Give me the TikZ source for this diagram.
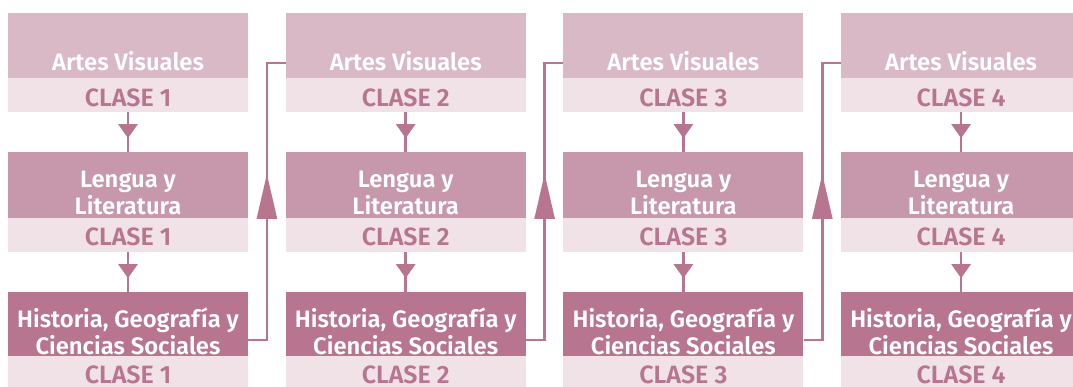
\documentclass[tikz,border=0pt]{standalone}
\usepackage{fontspec}
\setmainfont{Fira Sans}[BoldFont={Fira Sans SemiBold}]
\usetikzlibrary{arrows.meta,decorations.markings}

\definecolor{rosaA}{HTML}{DAB9C6}
\definecolor{rosaB}{HTML}{C797AB}
\definecolor{rosaC}{HTML}{B8758F}
\definecolor{rosaL}{HTML}{F0E2E7}

\begin{document}
\begin{tikzpicture}[x=1pt,y=-1pt,
    box/.style={rectangle,inner sep=0pt,minimum width=240pt},
    subject/.style={text=white,font=\bfseries\fontsize{23.8}{27.5}\selectfont,align=center,inner sep=0pt},
    clase/.style={text=rosaC,font=\bfseries\fontsize{25}{28}\selectfont,inner sep=0pt},
    down/.style={rosaC,line width=2.5pt,postaction={decorate},
      decoration={markings,mark=at position 26pt with {\arrow{Triangle[width=19pt,length=14pt]}}}},
    link/.style={rosaC,line width=2.5pt,postaction={decorate},
      decoration={markings,mark=at position 185pt with {\arrow{Triangle[width=20pt,length=45pt]}}}}]
        % \draw[help lines,step=50] (0,0) grid (1073,386);
        \useasboundingbox (0,0) rectangle (1073,386);

        \foreach \i in {1,...,4} {
            \pgfmathsetmacro{\cx}{128+277.7*(\i-1)}

            % boxes
            \node[box,fill=rosaA,minimum height=65pt] (a\i) at (\cx,45.5) {};
            \node[box,fill=rosaL,minimum height=34pt] (ca\i) at (\cx,95) {};
            \node[box,fill=rosaB,minimum height=66pt] (b\i) at (\cx,185) {};
            \node[box,fill=rosaL,minimum height=34pt] (cb\i) at (\cx,235) {};
            \node[box,fill=rosaC,minimum height=64pt] (c\i) at (\cx,324) {};
            \node[box,fill=rosaL,minimum height=34pt] (cc\i) at (\cx,373) {};

            % texts
            \node[subject] (ta\i) at (\cx,61) {Artes Visuales};
            \node[subject] (tb\i) at (\cx,193) {Lengua y\\Literatura};
            \node[subject] (tc\i) at (\cx,331.5) {Historia, Geografía y\\Ciencias Sociales};
            \node[clase] (la\i) at (\cx,98) {CLASE \i};
            \node[clase] (lb\i) at (\cx,237) {CLASE \i};
            \node[clase] (lc\i) at (\cx,375) {CLASE \i};

            % arrows inside a column
            \draw[down] (ca\i.south) -- (b\i.north);
            \draw[down] (cb\i.south) -- (c\i.north);
        }

        % history of one class to arts of the next one
        \foreach \i/\j in {1/2,2/3,3/4} {
            \draw[link] ([yshift=16pt]c\i.south east) -- ++(18.7,0) |- ([yshift=15pt]a\j.south west);
        }

      \end{tikzpicture}
\end{document}
